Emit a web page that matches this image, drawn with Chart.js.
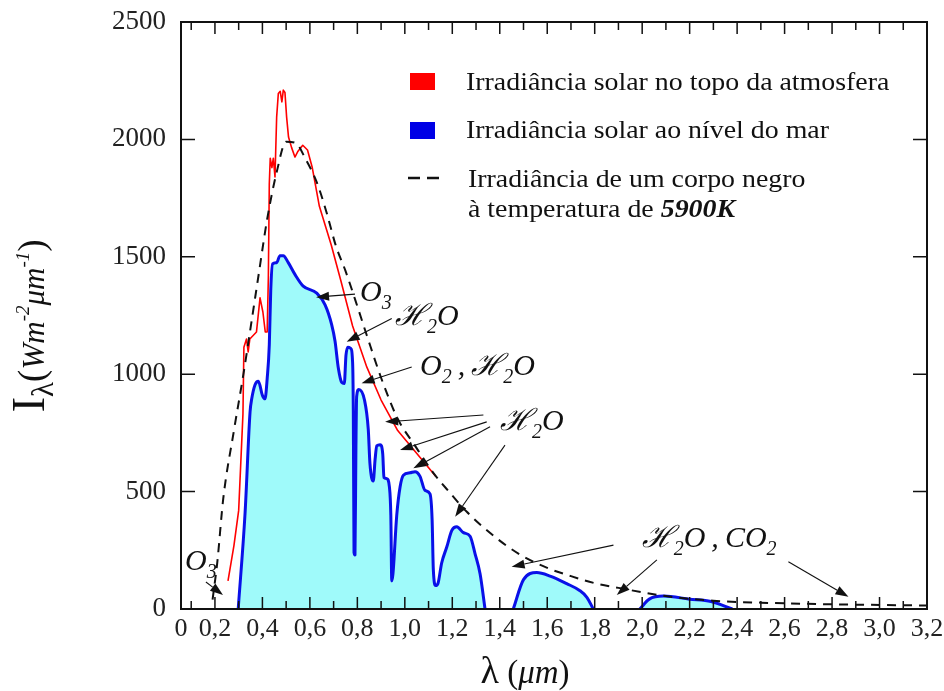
<!DOCTYPE html>
<html>
<head>
<meta charset="utf-8">
<script src="https://cdn.jsdelivr.net/npm/chart.js@4.4.1/dist/chart.umd.min.js"></script>
<style>
  html, body { margin: 0; padding: 0; background: #fff; }
  #wrap { width: 944px; height: 691px; position: relative; }
</style>
</head>
<body>
<div id="wrap"><canvas id="myChart"></canvas></div>
<script>
// wavelength axis ticks (um) and irradiance ticks
const xTicks = [0, 0.1, 0.2, 0.3, 0.4, 0.5, 0.6, 0.7, 0.8, 0.9, 1.0, 1.1, 1.2, 1.3, 1.4, 1.5, 1.6,
                1.7, 1.8, 1.9, 2.0, 2.1, 2.2, 2.3, 2.4, 2.5, 2.6, 2.7, 2.8, 2.9, 3.0, 3.1, 3.2];
const yTicks = [0, 500, 1000, 1500, 2000, 2500];
const X_MIN = 0.057;   // the left axis of the original sits a little right of 0
const X_MAX = 3.2;

// black body at 5900K (dashed)
const bbLambda = [0.19, 0.21, 0.235, 0.28, 0.32, 0.355, 0.385, 0.42, 0.46, 0.50, 0.54, 0.58, 0.63, 0.67,
                  0.71, 0.75, 0.79, 0.84, 0.90, 0.97, 1.04, 1.12, 1.19, 1.26, 1.37, 1.48, 1.60, 1.70,
                  1.80, 1.90, 2.10, 2.30, 2.50, 2.80, 3.20];
const bbIrr = [40, 200, 470, 760, 1000, 1230, 1430, 1660, 1860, 1990, 1985, 1920, 1815, 1690,
               1545, 1440, 1320, 1165, 985, 810, 700, 580, 495, 415, 315, 235, 175, 140,
               110, 90, 55, 35, 27, 20, 15];

// top of atmosphere (red)
const toaLambda = [0.255, 0.28, 0.30, 0.318, 0.322, 0.333, 0.34, 0.347, 0.375, 0.39, 0.402, 0.412, 0.42,
                   0.425, 0.429, 0.433, 0.44, 0.446, 0.453, 0.46, 0.467, 0.475, 0.482, 0.488, 0.495,
                   0.502, 0.51, 0.523, 0.537, 0.55, 0.57, 0.59, 0.61, 0.64, 0.69, 0.73, 0.78, 0.84,
                   0.90, 0.97, 1.04, 1.13];
const toaIrr = [120, 270, 420, 830, 1115, 1150, 1095, 1150, 1180, 1325, 1265, 1180, 1180,
                1410, 1810, 1920, 1880, 1920, 1840, 2095, 2195, 2205, 2160, 2210, 2200,
                2095, 2010, 1965, 1925, 1950, 1975, 1955, 1880, 1715, 1550, 1400, 1205, 1030,
                890, 760, 675, 565];

// sea level (blue, filled); null breaks the absorption gaps
const seaLambda = [0.298, 0.327, 0.348, 0.355, 0.369, 0.383, 0.40, 0.411, 0.42, 0.429, 0.435, 0.443,
                   0.46, 0.474, 0.488, 0.509, 0.537, 0.572, 0.629, 0.664, 0.692, 0.706, 0.72, 0.734,
                   0.745, 0.752, 0.76, 0.772, 0.78, 0.783, 0.786, 0.79, 0.794, 0.797, 0.806, 0.83,
                   0.846, 0.853, 0.867, 0.875, 0.882, 0.896, 0.907, 0.912, 0.924, 0.935, 0.941, 0.945,
                   0.95, 0.966, 0.98, 0.994, 1.022, 1.043, 1.064, 1.085, 1.106, 1.115, 1.12, 1.13,
                   1.14, 1.155, 1.177, 1.198, 1.219, 1.247, 1.275, 1.296, 1.317, 1.338,
                   1.40,
                   1.457, 1.50, 1.556, 1.612, 1.682, 1.738, 1.767, 1.794,
                   1.90,
                   1.99, 2.03, 2.09, 2.20, 2.29, 2.38];
const seaIrr = [0, 410, 840, 895, 955, 970, 910, 895, 980, 1125, 1355, 1470,
                1475, 1505, 1505, 1475, 1425, 1375, 1345, 1295, 1210, 1140, 1025, 965,
                960, 1080, 1115, 1110, 1050, 840, 240, 230, 690, 905, 935, 890,
                765, 620, 545, 640, 695, 700, 660, 560, 555, 520, 400, 120,
                150, 400, 520, 570, 580, 585, 565, 505, 490, 380, 170, 100,
                110, 195, 265, 335, 350, 325, 310, 235, 150, 0,
                null,
                0, 125, 155, 140, 108, 78, 50, 0,
                null,
                0, 42, 55, 42, 32, 0];

const seriesLabels = ['Irradiância solar no topo da atmosfera',
                      'Irradiância solar ao nível do mar',
                      'Irradiância de um corpo negro'];
const legendLine4 = 'à temperatura de ';
const legendBold = '5900K';

const SERIF = '"Liberation Serif", "Times New Roman", serif';
const SCRIPT = '"Liberation Serif", "DejaVu Serif", serif';

// absorption notes: text parts, anchor (lambda, I), arrows [fromL, fromI, toL, toI]
const n = (t) => ({ t: t, font: 'italic 30px ' + SCRIPT, dy: 0 });
const s = (t) => ({ t: t, font: 'italic 20px ' + SCRIPT, dy: 8 });
const comma = { t: '\u2009,\u2009', font: 'italic 30px ' + SCRIPT, dy: 0 };
const notes = [
    { parts: [n('O'), s('3')], at: [0.074, 166], arrows: [[0.162, 115, 0.234, 60]] },
    { parts: [n('O'), s('3')], at: [0.811, 1312], arrows: [[0.790, 1341, 0.626, 1328]] },
    { parts: [n('ℋ'), s('2'), n('O')], at: [0.959, 1209], arrows: [[0.945, 1237, 0.755, 1138]] },
    { parts: [n('O'), s('2'), comma, n('ℋ'), s('2'), n('O')], at: [1.064, 996], arrows: [[1.029, 1031, 0.818, 961]] },
    { parts: [n('ℋ'), s('2'), n('O')], at: [1.401, 762],
      arrows: [[1.331, 826, 0.917, 797], [1.345, 797, 0.98, 677], [1.359, 776, 1.036, 599], [1.422, 698, 1.212, 393]] },
    { parts: [n('ℋ'), s('2'), n('O'), comma, n('C'), n('O'), s('2')], at: [1.998, 265],
      arrows: [[1.879, 272, 1.450, 180], [2.062, 209, 1.893, 60], [2.616, 201, 2.869, 52]] }
];

function pairs(xs, ys) {
    return xs.map((x, i) => ({ x: x, y: ys[i] }));
}

function drawRich(ctx, parts, x, y) {
    let cx = x;
    parts.forEach(p => {
        ctx.font = p.font;
        ctx.fillText(p.t, cx, y + (p.dy || 0));
        cx += ctx.measureText(p.t).width;
    });
    return cx - x;
}

function richWidth(ctx, parts) {
    let w = 0;
    parts.forEach(p => { ctx.font = p.font; w += ctx.measureText(p.t).width; });
    return w;
}

function arrow(ctx, x1, y1, x2, y2) {
    const a = Math.atan2(y2 - y1, x2 - x1);
    const len = 13, half = 4.5;
    const bx = x2 - len * Math.cos(a), by = y2 - len * Math.sin(a);
    ctx.beginPath();
    ctx.moveTo(x1, y1);
    ctx.lineTo(bx, by);
    ctx.stroke();
    ctx.beginPath();
    ctx.moveTo(x2, y2);
    ctx.lineTo(bx + half * Math.sin(a), by - half * Math.cos(a));
    ctx.lineTo(bx - half * Math.sin(a), by + half * Math.cos(a));
    ctx.closePath();
    ctx.fill();
}

const frameTicks = {
    id: 'frameTicks',
    afterDatasetsDraw(chart) {
        const ctx = chart.ctx, xs = chart.scales.x, ys = chart.scales.y;
        const { left, right, top, bottom } = chart.chartArea;
        ctx.save();
        ctx.strokeStyle = '#111';
        ctx.lineWidth = 1.5;
        xTicks.forEach(v => {
            if (v === 0 || v >= X_MAX) return;
            const px = xs.getPixelForValue(v);
            const len = Math.round(v * 10) % 2 === 0 ? 12 : 8;
            ctx.beginPath();
            ctx.moveTo(px, bottom); ctx.lineTo(px, bottom - len);
            ctx.moveTo(px, top); ctx.lineTo(px, top + len);
            ctx.stroke();
        });
        yTicks.forEach(v => {
            if (v === 0 || v === 2500) return;
            const py = ys.getPixelForValue(v);
            ctx.beginPath();
            ctx.moveTo(left, py); ctx.lineTo(left + 14, py);
            ctx.moveTo(right, py); ctx.lineTo(right - 14, py);
            ctx.stroke();
        });
        ctx.lineWidth = 2;
        ctx.strokeRect(left, top, right - left, bottom - top);
        ctx.restore();
    }
};

const notesPlugin = {
    id: 'notes',
    afterDatasetsDraw(chart) {
        const ctx = chart.ctx, xs = chart.scales.x, ys = chart.scales.y;
        ctx.save();
        ctx.fillStyle = '#111';
        ctx.strokeStyle = '#111';
        ctx.lineWidth = 1.1;
        ctx.textBaseline = 'alphabetic';
        notes.forEach(nt => {
            drawRich(ctx, nt.parts, xs.getPixelForValue(nt.at[0]), ys.getPixelForValue(nt.at[1]));
            nt.arrows.forEach(a => {
                arrow(ctx, xs.getPixelForValue(a[0]), ys.getPixelForValue(a[1]),
                      xs.getPixelForValue(a[2]), ys.getPixelForValue(a[3]));
            });
        });
        ctx.restore();
    }
};

// legend text in the original is a bit wider than the plain font
function stretchedText(ctx, text, x, y, sx) {
    ctx.save();
    ctx.translate(x, y);
    ctx.scale(sx, 1);
    ctx.fillText(text, 0, 0);
    ctx.restore();
    return ctx.measureText(text).width * sx;
}

const legendPlugin = {
    id: 'legendBox',
    afterDraw(chart) {
        const ctx = chart.ctx;
        const sx = 1.115;
        ctx.save();
        ctx.fillStyle = '#ff0000';
        ctx.fillRect(410, 73, 25, 17);
        ctx.fillStyle = '#0000e6';
        ctx.fillRect(410, 122, 25, 17);
        ctx.strokeStyle = '#111';
        ctx.lineWidth = 2.5;
        ctx.beginPath();
        ctx.moveTo(408, 178); ctx.lineTo(420, 178);
        ctx.moveTo(427, 178); ctx.lineTo(439, 178);
        ctx.stroke();
        ctx.fillStyle = '#111';
        ctx.textBaseline = 'alphabetic';
        ctx.font = '25px ' + SERIF;
        stretchedText(ctx, seriesLabels[0], 466, 90, sx);
        stretchedText(ctx, seriesLabels[1], 466, 138, sx);
        stretchedText(ctx, seriesLabels[2], 468, 187, sx);
        const w = stretchedText(ctx, legendLine4, 468, 217, sx);
        ctx.font = 'italic bold 25px ' + SERIF;
        stretchedText(ctx, legendBold, 468 + w, 217, sx);
        ctx.restore();
    }
};

const titlesPlugin = {
    id: 'axisTitles',
    afterDraw(chart) {
        const ctx = chart.ctx;
        ctx.save();
        ctx.fillStyle = '#111';
        ctx.textBaseline = 'alphabetic';
        // x title: lambda (um)
        const xParts = [
            { t: 'λ', font: '38px ' + SERIF, dy: 0 },
            { t: ' (', font: '33px ' + SERIF, dy: 0 },
            { t: 'μm', font: 'italic 33px ' + SERIF, dy: 0 },
            { t: ')', font: '33px ' + SERIF, dy: 0 }
        ];
        const xw = richWidth(ctx, xParts);
        drawRich(ctx, xParts, 525 - xw / 2, 683);
        // y title: I_lambda (W m^-2 um^-1)
        const yParts = [
            { t: 'I', font: '47px ' + SERIF, dy: 0 },
            { t: 'λ', font: '31px ' + SERIF, dy: 9 },
            { t: '(', font: '37px ' + SERIF, dy: 0 },
            { t: 'Wm', font: 'italic 31px ' + SERIF, dy: 0 },
            { t: '-2', font: 'italic 19px ' + SERIF, dy: -15 },
            { t: 'μm', font: 'italic 31px ' + SERIF, dy: 0 },
            { t: '-1', font: 'italic 19px ' + SERIF, dy: -15 },
            { t: ')', font: '37px ' + SERIF, dy: 0 }
        ];
        const yw = richWidth(ctx, yParts);
        ctx.translate(44, 326);
        ctx.rotate(-Math.PI / 2);
        drawRich(ctx, yParts, -yw / 2, 0);
        ctx.restore();
    }
};

// keep the plot frame where the original has it, regardless of label overhang
function noOverhang(scale) {
    scale.paddingTop = 0;
    scale.paddingBottom = 0;
    scale.paddingLeft = 0;
    scale.paddingRight = 0;
}

const ctx = document.getElementById('myChart');
new Chart(ctx, {
    type: 'line',
    data: {
        datasets: [{
            label: seriesLabels[1],
            data: pairs(seaLambda, seaIrr),
            borderColor: '#0a10e8',
            backgroundColor: '#9ffafa',
            borderWidth: 3,
            fill: 'origin',
            spanGaps: false,
            cubicInterpolationMode: 'monotone',
            order: 3
        }, {
            label: seriesLabels[0],
            data: pairs(toaLambda, toaIrr),
            borderColor: '#ff0000',
            borderWidth: 1.6,
            fill: false,
            order: 2
        }, {
            label: seriesLabels[2],
            data: pairs(bbLambda, bbIrr),
            borderColor: '#111',
            borderWidth: 2,
            borderDash: [9, 7],
            fill: false,
            cubicInterpolationMode: 'monotone',
            order: 1
        }]
    },
    options: {
        responsive: true,
        maintainAspectRatio: false,
        animation: false,
        devicePixelRatio: 1,
        elements: {
            point: { radius: 0 },
            line: { borderJoinStyle: 'round' }
        },
        layout: {
            padding: { top: 22, right: 17, bottom: 0, left: 0 }
        },
        plugins: {
            legend: { display: false },
            tooltip: { enabled: false },
            title: { display: false }
        },
        scales: {
            x: {
                type: 'linear',
                min: X_MIN,
                max: X_MAX,
                grid: { display: false, drawTicks: false },
                border: { display: false },
                afterBuildTicks: function(scale) {
                    scale.ticks = xTicks.map(v => ({ value: Math.max(v, X_MIN) }));
                },
                afterFit: function(scale) {
                    scale.height = 82;
                    noOverhang(scale);
                },
                ticks: {
                    autoSkip: false,
                    maxRotation: 0,
                    padding: 5,
                    color: '#222',
                    font: { family: SERIF, size: 26 },
                    callback: function(value, index) {
                        const v = xTicks[index];
                        if (Math.round(v * 10) % 2 !== 0) return '';
                        return v === 0 ? '0' : v.toFixed(1).replace('.', ',');
                    }
                }
            },
            y: {
                type: 'linear',
                min: 0,
                max: 2500,
                grid: { display: false, drawTicks: false },
                border: { display: false },
                afterBuildTicks: function(scale) {
                    scale.ticks = yTicks.map(v => ({ value: v }));
                },
                afterFit: function(scale) {
                    scale.width = 181;
                    noOverhang(scale);
                },
                ticks: {
                    padding: 15,
                    color: '#222',
                    font: { family: SERIF, size: 27 },
                    callback: function(value) { return String(value); }
                }
            }
        }
    },
    plugins: [frameTicks, notesPlugin, legendPlugin, titlesPlugin]
});
</script>
</body>
</html>
